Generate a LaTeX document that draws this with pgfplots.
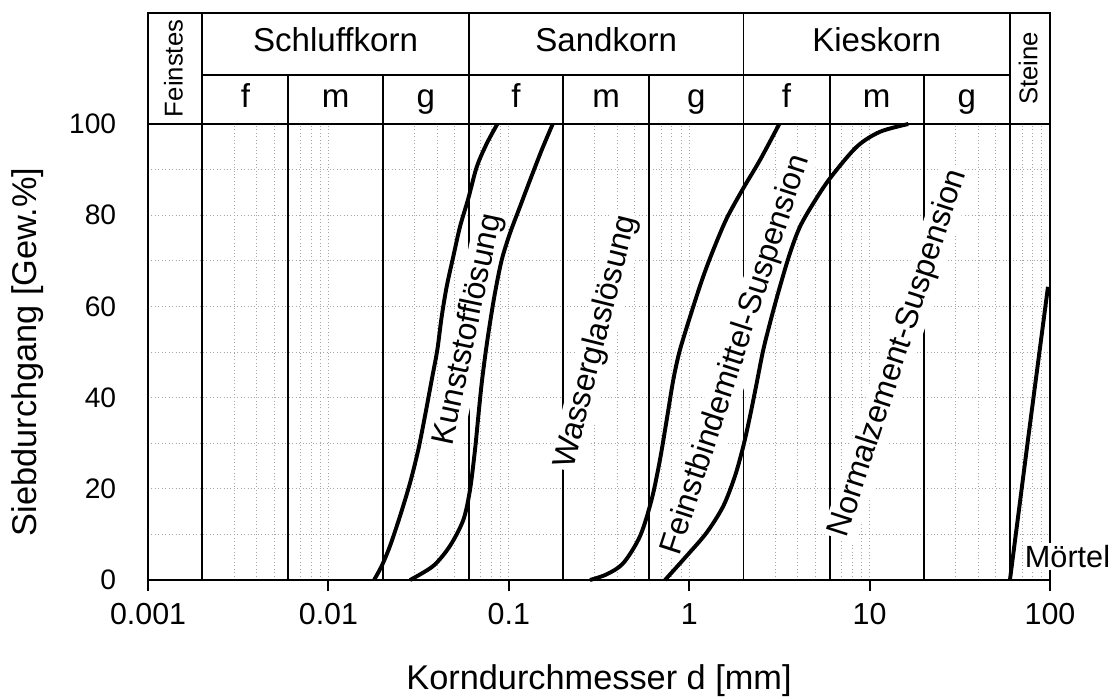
\documentclass[border=0pt]{standalone}
\usepackage{fontspec}
\setmainfont{Liberation Sans}
\usepackage{pgfplots}
\pgfplotsset{compat=1.18}

\begin{document}
\begin{tikzpicture}
\useasboundingbox (-60.4pt,-48.5pt) rectangle (393.2pt,236.6pt);
\begin{axis}[
    at={(0,0)}, anchor=south west,
    scale only axis, width=367.9pt, height=186pt,
    xmode=log, xmin=0.001, xmax=100, ymin=0, ymax=100,
    xtick={0.001,0.01,0.1,1,10,100},
    xticklabels={0.001,0.01,0.1,1,10,100},
    minor xtick={0.002,0.003,0.004,0.005,0.006,0.007,0.008,0.009,
                 0.02,0.03,0.04,0.05,0.06,0.07,0.08,0.09,
                 0.2,0.3,0.4,0.5,0.6,0.7,0.8,0.9,
                 2,3,4,5,6,7,8,9,20,30,40,50,60,70,80,90},
    ytick={0,20,40,60,80,100},
    minor ytick={10,30,50,70,90},
    grid=both,
    major grid style={densely dotted, gray!70, line width=0.35pt},
    minor grid style={densely dotted, gray!70, line width=0.35pt},
    axis line style={black, line width=0.8pt},
    tick align=outside,
    xtick pos=lower,
    major tick length=4.5pt, minor tick length=0pt,
    xtick style={black, line width=0.8pt},
    ytick style={draw=none},
    yticklabel style={xshift=-5pt, font=\fontsize{11.5}{13}\selectfont},
    xticklabel style={yshift=-1.5pt, font=\fontsize{12.4}{14}\selectfont},
    /pgf/number format/assume math mode=true,
    xlabel={Korndurchmesser d [mm]},
    ylabel={Siebdurchgang [Gew.\%]},
    label style={font=\fontsize{14}{16}\selectfont},
    xlabel style={at={(axis description cs:0.5,-0.22)}, anchor=center},
    ylabel style={at={(axis description cs:-0.134,0.5)}, anchor=center},
    clip=false,
]
% header frame
\draw[line width=0.8pt] (axis cs:0.001,100) -- (axis cs:0.001,124.3) -- (axis cs:100,124.3) -- (axis cs:100,100);
\draw[line width=0.8pt] (axis cs:0.002,110.7) -- (axis cs:60,110.7);
% main class boundaries
\pgfplotsinvokeforeach{0.002,0.06,2,60}{
  \draw[line width=0.8pt] (axis cs:#1,0) -- (axis cs:#1,124.3);
}
% sub class boundaries
\pgfplotsinvokeforeach{0.006,0.02,0.2,0.6,6,20}{
  \draw[line width=0.8pt] (axis cs:#1,0) -- (axis cs:#1,110.7);
}

% header labels
\begin{scope}[every node/.style={font=\fontsize{13.5}{15}\selectfont, text height=1.5ex, text depth=0.35ex, inner sep=0pt}]
\node[rotate=90, font=\fontsize{10.5}{12}\selectfont] at (axis cs:0.001414,112.2) {Feinstes};
\node[rotate=90, font=\fontsize{10.5}{12}\selectfont] at (axis cs:77.5,112.2) {Steine};
\node at (axis cs:0.01095,117.5) {Schluffkorn};
\node at (axis cs:0.3464,117.5) {Sandkorn};
\node at (axis cs:10.95,117.5) {Kieskorn};
\node at (axis cs:0.003464,105.35) {f};
\node at (axis cs:0.01095,105.35) {m};
\node at (axis cs:0.03464,105.35) {g};
\node at (axis cs:0.1095,105.35) {f};
\node at (axis cs:0.3464,105.35) {m};
\node at (axis cs:1.095,105.35) {g};
\node at (axis cs:3.464,105.35) {f};
\node at (axis cs:10.95,105.35) {m};
\node at (axis cs:34.64,105.35) {g};
\end{scope}

% curve labels
\begin{scope}[every node/.style={font=\fontsize{13}{15}\selectfont, fill=white, inner sep=1pt}]
\node[rotate=78] at (axis cs:0.060,54.9) {Kunststofflösung};
\node[rotate=76] at (axis cs:0.308,52.2) {Wasserglaslösung};
\node[rotate=72] at (axis cs:1.829,49.4) {Feinstbindemittel-Suspension};
\node[rotate=72] at (axis cs:14.46,49.7) {Normalzement-Suspension};
\end{scope}

% Kunststoffloesung, left limit
\addplot[black, line width=1.6pt, smooth, tension=0.5] coordinates {
 (0.01790,0) (0.01975,3.1) (0.02196,7.5) (0.02493,14.0) (0.02834,21.3) (0.03150,28.6)
 (0.03431,36.0) (0.03738,43.9) (0.04015,50.5) (0.04246,57.8) (0.04527,64.4)
 (0.04926,71.0) (0.05364,77.5) (0.05965,83.7) (0.06641,90.6) (0.07541,95.7) (0.08636,100)};
% Kunststoffloesung, right limit
\addplot[black, line width=1.6pt, smooth, tension=0.5] coordinates {
 (0.02834,0) (0.03815,3.1) (0.04722,7.5) (0.05596,13.2) (0.06095,19.8) (0.06496,28.6)
 (0.06775,35.9) (0.07076,43.2) (0.07473,50.5) (0.07866,56.4) (0.08384,63.0)
 (0.09135,70.2) (0.1016,76.1) (0.1154,81.9) (0.1311,87.7) (0.1522,94.3) (0.1751,100)};
% Wasserglas / Feinstbindemittel
\addplot[black, line width=1.6pt, smooth, tension=0.5] coordinates {
 (0.2818,0) (0.3488,1.25) (0.4312,3.7) (0.5337,9.6) (0.6196,17.7) (0.6888,26.4)
 (0.7561,35.9) (0.8163,43.9) (0.8892,50.5) (1.054,60.0) (1.197,66.6) (1.360,72.4)
 (1.614,79.3) (1.994,85.9) (2.469,92.1) (3.158,100)};
% Feinstbindemittel / Normalzement
\addplot[black, line width=1.6pt, smooth, tension=0.5] coordinates {
 (0.7340,0) (0.9685,5.3) (1.250,10.4) (1.545,16.2) (1.794,22.8) (1.994,29.3)
 (2.173,35.9) (2.367,43.2) (2.575,50.5) (2.867,57.8) (3.187,64.4) (3.621,71.7)
 (4.114,77.5) (4.874,82.6) (6.033,88.1) (8.482,95.0) (11.42,98.3) (16.39,100)};
% Moertel
\addplot[black, line width=1.6pt] coordinates {(60,0) (75.5,30.7) (97.5,64.3)};
\node[anchor=west, fill=white, inner sep=1pt, font=\fontsize{12.5}{14}\selectfont] at (axis cs:70,5.1) {Mörtel};
\end{axis}
\end{tikzpicture}
\end{document}
